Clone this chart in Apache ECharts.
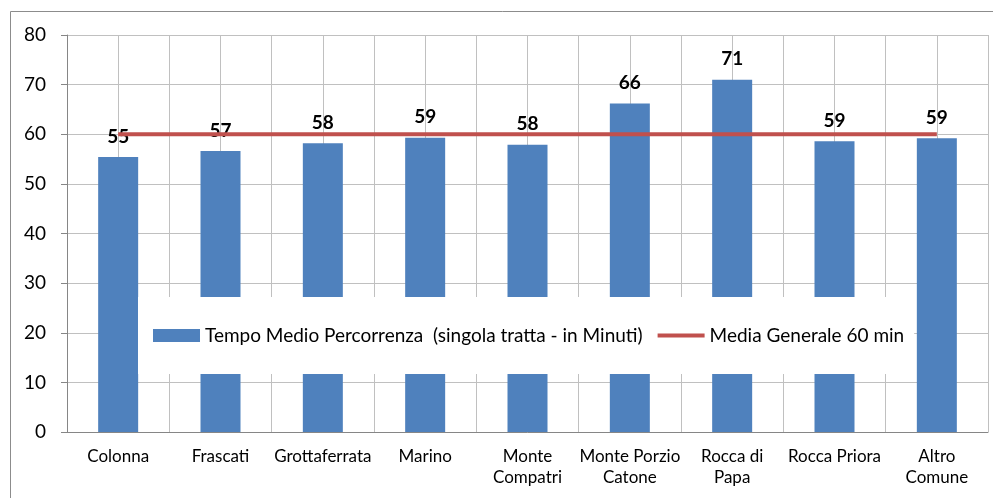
<!DOCTYPE html>
<html>
<head>
<meta charset="utf-8">
<script src="https://cdn.jsdelivr.net/npm/echarts@6/dist/echarts.min.js"></script>
<style>
  html, body { margin: 0; padding: 0; background: #fff; }
  #chart { width: 993px; height: 498px; }
</style>
</head>
<body>
<div id="chart"></div>
<script>
// dati del grafico
const comuni = ['Colonna', 'Frascati', 'Grottaferrata', 'Marino', 'Monte\nCompatri',
  'Monte Porzio\nCatone', 'Rocca di\nPapa', 'Rocca Priora', 'Altro\nComune']
const tempoMedio = [55.4, 56.6, 58.2, 59.3, 57.9, 66.2, 71.0, 58.6, 59.2]
const mediaGenerale = [60, 60, 60, 60, 60, 60, 60, 60, 60]
const yTicks = [0, 10, 20, 30, 40, 50, 60, 70, 80]

const nomeBarre = 'Tempo Medio Percorrenza  (singola tratta - in Minuti)'
const nomeLinea = 'Media Generale 60 min'
const font = 'Lato'

let myChart = echarts.init(document.getElementById('chart'))

let option = {
  animation: false,
  textStyle: { fontFamily: font },
  graphic: [
    // cornice esterna
    {
      type: 'rect',
      shape: { x: 10.5, y: 11.5, width: 1000, height: 600 },
      style: { fill: 'none', stroke: '#8c8c8c', lineWidth: 1 },
      z: -10
    }
  ],
  grid: { left: 67, right: 5, top: 35, bottom: 66 },
  legend: {
    left: 138,
    top: 297,
    padding: [29, 10, 29, 15],
    backgroundColor: '#fff',
    itemGap: 15,
    itemWidth: 47,
    itemHeight: 13,
    z: 10,
    textStyle: { fontFamily: font, fontSize: 19, color: '#000' },
    data: [
      { name: nomeBarre, icon: 'rect' },
      { name: nomeLinea, icon: 'path://M0,0H100V8H0Z' }
    ]
  },
  xAxis: [
    {
      type: 'category',
      data: comuni,
      axisLine: { lineStyle: { color: '#868686', width: 1 } },
      axisTick: { length: 5, lineStyle: { color: '#868686' } },
      axisLabel: { color: '#000', fontSize: 17, margin: 14, lineHeight: 21, interval: 0, fontFamily: font },
      splitLine: { show: false }
    },
    {
      // linee verticali a meta' categoria
      type: 'value',
      min: 0,
      max: comuni.length,
      interval: 0.5,
      position: 'top',
      axisLine: { show: false },
      axisTick: { show: false },
      axisLabel: { show: false },
      splitLine: { show: true, lineStyle: { color: '#c0c0c0', width: 1 } }
    }
  ],
  yAxis: {
    type: 'value',
    min: yTicks[0],
    max: yTicks[yTicks.length - 1],
    interval: 10,
    axisLine: { show: true, lineStyle: { color: '#868686' } },
    axisTick: { show: true, length: 6, lineStyle: { color: '#868686' } },
    axisLabel: { color: '#000', fontSize: 19, margin: 21, fontFamily: font },
    splitLine: { lineStyle: { color: '#c0c0c0', width: 1 } }
  },
  series: [
    {
      name: nomeBarre,
      type: 'bar',
      xAxisIndex: 0,
      data: tempoMedio,
      barWidth: 40,
      itemStyle: { color: '#4f81bd' },
      label: {
        show: true,
        position: 'top',
        distance: 11,
        color: '#000',
        fontSize: 19,
        fontWeight: 'bold',
        fontFamily: font,
        formatter: p => Math.round(p.value)
      },
      z: 2
    },
    {
      name: nomeLinea,
      type: 'line',
      xAxisIndex: 0,
      data: mediaGenerale,
      symbol: 'none',
      lineStyle: { color: '#c0504d', width: 4 },
      itemStyle: { color: '#c0504d' },
      z: 3
    }
  ]
}

option && myChart.setOption(option)
</script>
</body>
</html>
